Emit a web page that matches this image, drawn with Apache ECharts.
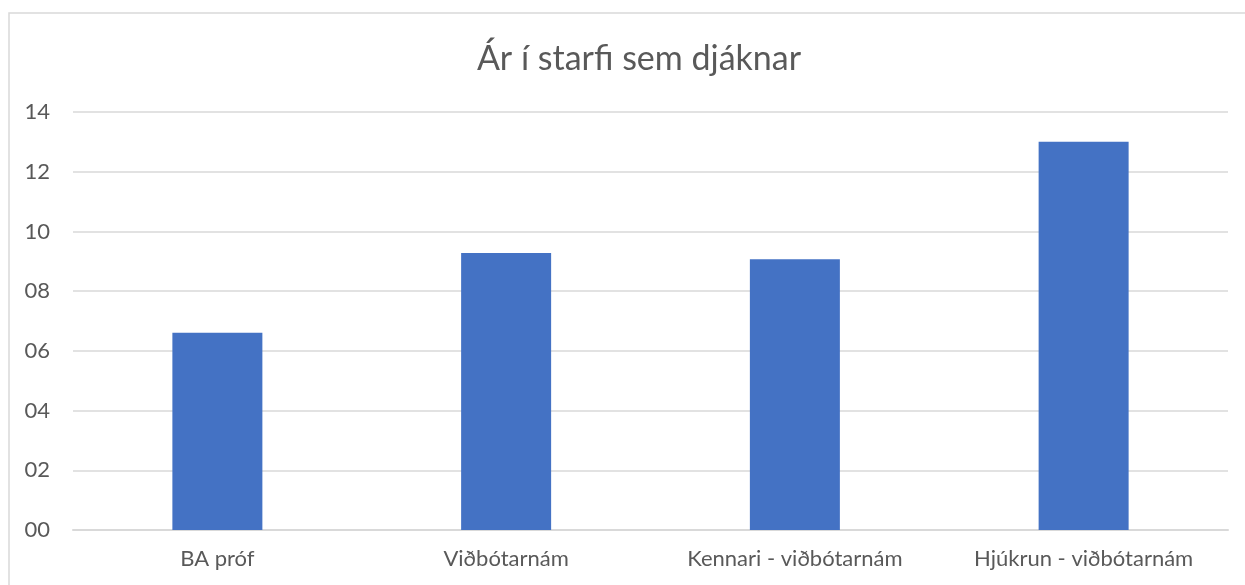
<!DOCTYPE html>
<html>
<head>
<meta charset="utf-8">
<script src="https://cdn.jsdelivr.net/npm/echarts@6/dist/echarts.min.js"></script>
<style>
  html, body { margin: 0; padding: 0; background: #fff; }
  #chart { width: 1245px; height: 585px; }
</style>
</head>
<body>
<div id="chart"></div>
<script>
const categories = ["BA próf", "Viðbótarnám", "Kennari - viðbótarnám", "Hjúkrun - viðbótarnám"];
const years = [6.61, 9.28, 9.07, 13.0];
const titleText = "Ár í starfi sem djáknar";

const chart = echarts.init(document.getElementById("chart"));
chart.setOption({
    animation: false,
    textStyle: { fontFamily: "Lato, 'Noto Sans', sans-serif" },
    graphic: [{
        type: "rect",
        shape: { x: 9, y: 13, width: 1250, height: 600 },
        style: { fill: "none", stroke: "#d9d9d9", lineWidth: 1.5 },
        silent: true
    }],
    title: {
        text: titleText,
        left: 634,
        top: 37,
        textAlign: "center",
        textStyle: { fontSize: 34, fontWeight: "normal", color: "#595959" }
    },
    grid: { left: 73, right: 17, top: 112, bottom: 55 },
    xAxis: {
        type: "category",
        data: categories,
        axisLine: { lineStyle: { color: "#d9d9d9", width: 2 } },
        axisTick: { show: false },
        axisLabel: { color: "#595959", fontSize: 22, margin: 18 }
    },
    yAxis: {
        type: "value",
        min: 0,
        max: 14,
        interval: 2,
        axisLine: { show: false },
        axisTick: { show: false },
        splitLine: { lineStyle: { color: "#d9d9d9", width: 1.5 } },
        axisLabel: {
            color: "#595959",
            fontSize: 22,
            margin: 23,
            formatter: v => String(v).padStart(2, "0")
        }
    },
    series: [{
        type: "bar",
        data: years,
        barWidth: 90,
        itemStyle: { color: "#4472c4" }
    }]
});
</script>
</body>
</html>
